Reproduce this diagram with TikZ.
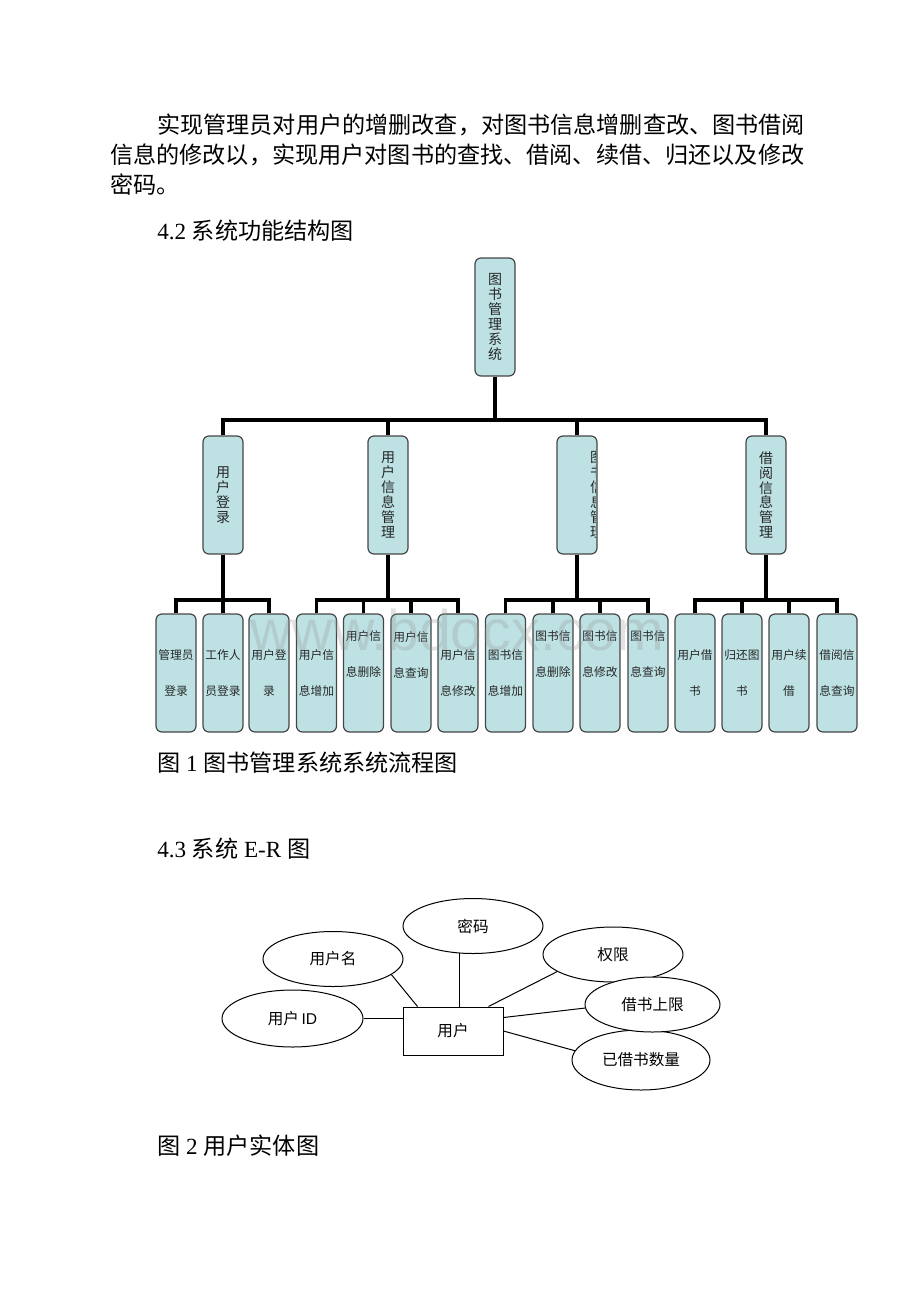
\documentclass[tikz,border=0pt]{standalone}
\usepackage{fontspec}
\setmainfont{Liberation Serif}
\newfontfamily\cjk{Noto Sans CJK SC}
\newfontfamily\wmfont{Liberation Sans}
\usetikzlibrary{shapes.geometric,calc}
\definecolor{boxc}{RGB}{190,226,228}
\definecolor{boxd}{RGB}{70,70,70}
\definecolor{wmc}{RGB}{150,150,150}
\newcommand{\leafnode}[5]{%
  \node[lvl] (#1) at (#2,673) {};
  \node[ltext] (#1-t) at (#2,#3) {#4\\#5};}
\begin{document}
\begin{tikzpicture}[x=0.75pt,y=-0.75pt,
  body/.style={anchor=base west, inner sep=0pt, font=\fontsize{17.35pt}{22.5pt}\selectfont},
  lvl/.style={draw=boxd, fill=boxc, rounded corners=4.5pt, line width=0.9pt,
    minimum width=30pt, minimum height=88.5pt, inner sep=0pt},
  vtext/.style={align=center, font=\cjk\fontsize{10.5pt}{11.2pt}\selectfont, text=black!85},
  ltext/.style={align=center, inner sep=0pt, font=\cjk\fontsize{8.8pt}{27pt}\selectfont, text=black!85},
  conn/.style={line width=2.3pt, black, line join=miter},
  attr/.style={ellipse, draw, fill=white, line width=0.75pt, minimum width=105pt,
    minimum height=41.25pt, inner sep=0pt, font=\cjk\fontsize{11.7pt}{14pt}\selectfont},
  ent/.style={rectangle, draw, fill=white, line width=0.75pt, minimum width=75pt,
    minimum height=36pt, inner sep=0pt, font=\cjk\fontsize{11.7pt}{14pt}\selectfont},
  erline/.style={line width=0.75pt}]
\useasboundingbox (0,0) rectangle (920,1302);

% body text
\node[body] (p1) at (157,134) {\cjk 实现管理员对用户的增删改查，对图书信息增删查改、图书借阅};
\node[body] (p2) at (110,164) {\cjk 信息的修改以，实现用户对图书的查找、借阅、续借、归还以及修改};
\node[body] (p3) at (110,194) {\cjk 密码。};
\node[body] (h42) at (157,239) {4.2 {\cjk 系统功能结构图}};

% tree
\node[lvl, vtext] (root) at (495,317) {图\\书\\管\\理\\系\\统};
\node[lvl, vtext] (l1) at (223,495) {用\\户\\登\\录};
\node[lvl, vtext] (l2) at (388,495) {用\\户\\信\\息\\管\\理};
\node[lvl] (l3) at (577,495) {};
\begin{scope}
  \clip (557,436) rectangle (595.5,554);
  \node[vtext, inner sep=0pt] (l3-t) at (597,495) {图\\书\\信\\息\\管\\理};
\end{scope}
\node[lvl, vtext] (l4) at (766,495) {借\\阅\\信\\息\\管\\理};

\leafnode{a1}{176}{673}{管理员}{登录}
\leafnode{a2}{223}{673}{工作人}{员登录}
\leafnode{a3}{269}{673}{用户登}{录}
\leafnode{b1}{316.5}{673}{用户信}{息增加}
\leafnode{b2}{363.5}{654.5}{用户信}{息删除}
\leafnode{b3}{411}{654.5}{用户信}{息查询}
\leafnode{b4}{458}{673}{用户信}{息修改}
\leafnode{c1}{505.5}{673}{图书信}{息增加}
\leafnode{c2}{553}{654.5}{图书信}{息删除}
\leafnode{c3}{600}{654.5}{图书信}{息修改}
\leafnode{c4}{648}{654.5}{图书信}{息查询}
\leafnode{d1}{695}{673}{用户借}{书}
\leafnode{d2}{742}{673}{归还图}{书}
\leafnode{d3}{789}{673}{用户续}{借}
\leafnode{d4}{837}{673}{借阅信}{息查询}

\coordinate (bus) at (0,420);
\coordinate (sb) at (0,600);
\draw[conn] (root.south) -- (root |- bus);
\draw[conn] (l1.north) -- (l1 |- bus) -- (l4 |- bus) -- (l4.north);
\draw[conn] (l2.north) -- (l2 |- bus);
\draw[conn] (l3.north) -- (l3 |- bus);

\draw[conn] (l1.south) -- (l1 |- sb);
\draw[conn] (a1.north) -- (a1 |- sb) -- (a3 |- sb) -- (a3.north);
\draw[conn] (a2.north) -- (a2 |- sb);
\draw[conn] (l2.south) -- (l2 |- sb);
\draw[conn] (b1.north) -- (b1 |- sb) -- (b4 |- sb) -- (b4.north);
\draw[conn] (b2.north) -- (b2 |- sb);
\draw[conn] (b3.north) -- (b3 |- sb);
\draw[conn] (l3.south) -- (l3 |- sb);
\draw[conn] (c1.north) -- (c1 |- sb) -- (c4 |- sb) -- (c4.north);
\draw[conn] (c2.north) -- (c2 |- sb);
\draw[conn] (c3.north) -- (c3 |- sb);
\draw[conn] (l4.south) -- (l4 |- sb);
\draw[conn] (d1.north) -- (d1 |- sb) -- (d4 |- sb) -- (d4.north);
\draw[conn] (d2.north) -- (d2 |- sb);
\draw[conn] (d3.north) -- (d3 |- sb);

% watermark
\node[anchor=base west, inner sep=0pt, text=wmc, text opacity=0.28,
  font=\wmfont\fontsize{43pt}{43pt}\selectfont] (wm) at (250,650) {www.bdocx.com};

\node[body] (cap1) at (157,771) {{\cjk 图} 1 {\cjk 图书管理系统系统流程图}};
\node[body] (h43) at (157,857) {4.3 {\cjk 系统} E-R {\cjk 图}};

% ER diagram
\node[ent] (user) at (453,1031) {用户};
\node[attr] (pw) at (473,926) {密码};
\node[attr] (uname) at (333,959) {用户名};
\node[attr] (auth) at (613,954.5) {权限};
\node[attr, minimum width=103.5pt, minimum height=45pt] (cnt) at (641,1060) {已借书数量};
\node[attr, minimum width=101.25pt] (lim) at (652.5,1004.5) {借书上限};
\node[attr, minimum width=105.75pt, minimum height=42.75pt] (uid) at (292.5,1018.5) {用户\,{\wmfont ID}};

\draw[erline] (uname.-15) -- ($(user.north west)+(15,0)$);
\draw[erline] (pw.-117) -- (pw.-117 |- user.north);
\draw[erline] (auth.-163) -- ($(user.north east)+(-15,0)$);
\draw[erline] (lim.183) -- ($(user.north east)+(0,11)$);
\draw[erline] (cnt.172) -- (user.east);
\draw[erline] (uid.east) -- (uid.east -| user.west);

\node[body] (cap2) at (157,1154) {{\cjk 图} 2 {\cjk 用户实体图}};
\end{tikzpicture}
\end{document}
